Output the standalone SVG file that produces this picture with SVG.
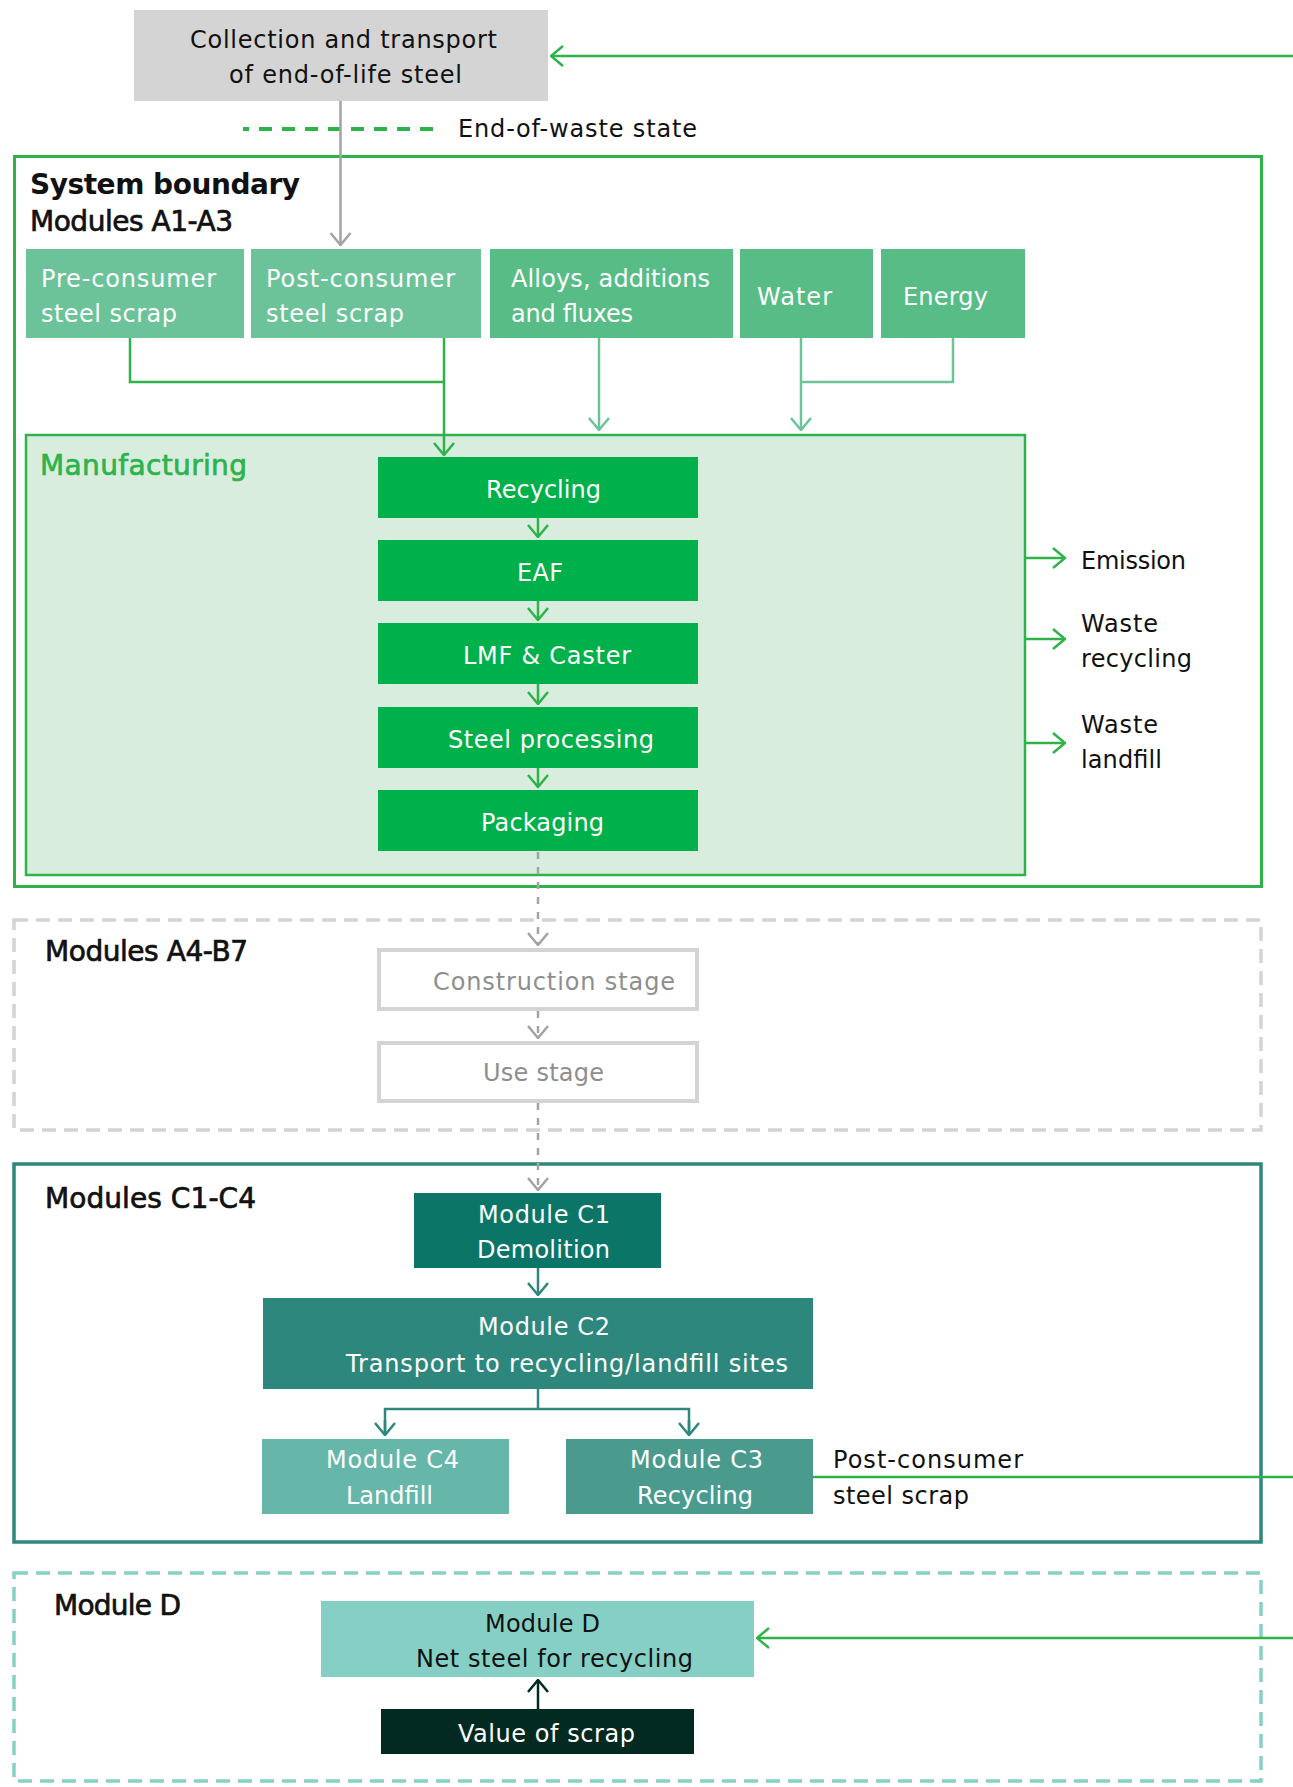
<svg xmlns="http://www.w3.org/2000/svg" width="1293" height="1787" viewBox="0 0 1293 1787">
<defs>
<style>
text{font-family:"DejaVu Sans","Liberation Sans",sans-serif;font-size:24px;fill:#111}
.w{fill:#fff}
.g{fill:#8d8f8e}
.h{font-size:28px;stroke:#111;stroke-width:0.7}
.b{font-weight:bold;stroke:none}
.mg{fill:#2db34a;stroke:#2db34a}
.ln{fill:none;stroke-width:2.5}
</style>
<marker id="aG" viewBox="0 0 14 22" markerWidth="14" markerHeight="22" refX="13" refY="11" orient="auto" markerUnits="userSpaceOnUse"><path d="M1,1 L13,11 L1,21" fill="none" stroke="#2db34a" stroke-width="2.5"/></marker>
<marker id="aL" viewBox="0 0 14 22" markerWidth="14" markerHeight="22" refX="13" refY="11" orient="auto" markerUnits="userSpaceOnUse"><path d="M1,1 L13,11 L1,21" fill="none" stroke="#6cc399" stroke-width="2.5"/></marker>
<marker id="aY" viewBox="0 0 14 22" markerWidth="14" markerHeight="22" refX="13" refY="11" orient="auto" markerUnits="userSpaceOnUse"><path d="M1,1 L13,11 L1,21" fill="none" stroke="#a3a3a3" stroke-width="2.5"/></marker>
<marker id="aT" viewBox="0 0 14 22" markerWidth="14" markerHeight="22" refX="13" refY="11" orient="auto" markerUnits="userSpaceOnUse"><path d="M1,1 L13,11 L1,21" fill="none" stroke="#2e877c" stroke-width="2.5"/></marker>
<marker id="aD" viewBox="0 0 14 22" markerWidth="14" markerHeight="22" refX="13" refY="11" orient="auto" markerUnits="userSpaceOnUse"><path d="M1,1 L13,11 L1,21" fill="none" stroke="#022a21" stroke-width="2.5"/></marker>
</defs>
<rect width="1293" height="1787" fill="#fff"/>

<!-- section frames -->
<g id="system-boundary">
<rect x="14.5" y="156.5" width="1247" height="730" fill="none" stroke="#2db34a" stroke-width="3"/>
<text x="30" y="194" class="h b" textLength="270">System boundary</text>
<text x="30" y="231" class="h" textLength="203">Modules A1-A3</text>
</g>
<g id="manufacturing">
<rect x="26" y="435" width="999" height="440" fill="#d9eddf" stroke="#2db34a" stroke-width="2.5"/>
<text x="40" y="475" class="h mg" textLength="207">Manufacturing</text>
</g>
<g id="modules-a4-b7">
<rect x="14" y="920" width="1247" height="210" fill="none" stroke="#d3d4d3" stroke-width="3.5" stroke-dasharray="14 8"/>
<text x="45" y="961" class="h" textLength="203">Modules A4-B7</text>
</g>
<g id="modules-c1-c4">
<rect x="14" y="1164" width="1247" height="378" fill="none" stroke="#2e877c" stroke-width="3.5"/>
<text x="45" y="1208" class="h" textLength="211">Modules C1-C4</text>
</g>
<g id="module-d-section">
<rect x="14" y="1573" width="1247" height="208" fill="none" stroke="#86d0c4" stroke-width="3.5" stroke-dasharray="14 8"/>
<text x="54" y="1615" class="h" textLength="127">Module D</text>
</g>

<!-- legend -->
<g id="legend">
<line x1="243" y1="129" x2="438" y2="129" stroke="#2db34a" stroke-width="4" stroke-dasharray="13 10" stroke-dashoffset="7"/>
<text x="458" y="137" textLength="239">End-of-waste state</text>
</g>

<!-- nodes -->
<g id="collection">
<rect x="134" y="10" width="414" height="91" fill="#d3d4d3"/>
<text x="190" y="48" textLength="307">Collection and transport</text>
<text x="229" y="83" textLength="233">of end-of-life steel</text>
</g>
<g id="pre-consumer">
<rect x="26" y="249" width="218" height="89" fill="#6cc399"/>
<text x="41" y="287" class="w" textLength="175">Pre-consumer</text>
<text x="41" y="322" class="w" textLength="136">steel scrap</text>
</g>
<g id="post-consumer">
<rect x="251" y="249" width="230" height="89" fill="#6cc399"/>
<text x="266" y="287" class="w" textLength="189">Post-consumer</text>
<text x="266" y="322" class="w" textLength="138">steel scrap</text>
</g>
<g id="alloys">
<rect x="490" y="249" width="243" height="89" fill="#58bc86"/>
<text x="511" y="287" class="w" textLength="199">Alloys, additions</text>
<text x="511" y="322" class="w" textLength="122">and fluxes</text>
</g>
<g id="water">
<rect x="740" y="249" width="133" height="89" fill="#58bc86"/>
<text x="757" y="305" class="w" textLength="75">Water</text>
</g>
<g id="energy">
<rect x="881" y="249" width="144" height="89" fill="#58bc86"/>
<text x="903" y="305" class="w" textLength="85">Energy</text>
</g>
<g id="recycling">
<rect x="378" y="457" width="320" height="61" fill="#00b04b"/>
<text x="486" y="498" class="w" textLength="115">Recycling</text>
</g>
<g id="eaf">
<rect x="378" y="540" width="320" height="61" fill="#00b04b"/>
<text x="517" y="581" class="w" textLength="46">EAF</text>
</g>
<g id="lmf">
<rect x="378" y="623" width="320" height="61" fill="#00b04b"/>
<text x="463" y="664" class="w" textLength="168">LMF &amp; Caster</text>
</g>
<g id="steel-processing">
<rect x="378" y="707" width="320" height="61" fill="#00b04b"/>
<text x="448" y="748" class="w" textLength="206">Steel processing</text>
</g>
<g id="packaging">
<rect x="378" y="790" width="320" height="61" fill="#00b04b"/>
<text x="481" y="831" class="w" textLength="123">Packaging</text>
</g>
<g id="emission">
<text x="1081" y="569" textLength="105">Emission</text>
</g>
<g id="waste-recycling">
<text x="1081" y="632" textLength="77">Waste</text>
<text x="1081" y="667" textLength="111">recycling</text>
</g>
<g id="waste-landfill">
<text x="1081" y="733" textLength="77">Waste</text>
<text x="1081" y="768" textLength="81">landfill</text>
</g>
<g id="construction-stage">
<rect x="379" y="950" width="318" height="59" fill="#fff" stroke="#d3d4d3" stroke-width="4"/>
<text x="433" y="990" class="g" textLength="242">Construction stage</text>
</g>
<g id="use-stage">
<rect x="379" y="1043" width="318" height="58" fill="#fff" stroke="#d3d4d3" stroke-width="4"/>
<text x="483" y="1081" class="g" textLength="121">Use stage</text>
</g>
<g id="c1">
<rect x="414" y="1193" width="247" height="75" fill="#0b7667"/>
<text x="478" y="1223" class="w" textLength="132">Module C1</text>
<text x="477" y="1258" class="w" textLength="133">Demolition</text>
</g>
<g id="c2">
<rect x="263" y="1298" width="550" height="91" fill="#2e877c"/>
<text x="478" y="1335" class="w" textLength="132">Module C2</text>
<text x="346" y="1372" class="w" textLength="442">Transport to recycling/landfill sites</text>
</g>
<g id="c4">
<rect x="262" y="1439" width="247" height="75" fill="#66b6a9"/>
<text x="326" y="1468" class="w" textLength="133">Module C4</text>
<text x="346" y="1504" class="w" textLength="87">Landfill</text>
</g>
<g id="c3">
<rect x="566" y="1439" width="247" height="75" fill="#4a9b8e"/>
<text x="630" y="1468" class="w" textLength="133">Module C3</text>
<text x="637" y="1504" class="w" textLength="116">Recycling</text>
</g>
<g id="post-consumer-out">
<text x="833" y="1468" textLength="190">Post-consumer</text>
<text x="833" y="1504" textLength="136">steel scrap</text>
</g>
<g id="module-d">
<rect x="321" y="1601" width="433" height="76" fill="#85cfc4"/>
<text x="485" y="1632" textLength="115">Module D</text>
<text x="416" y="1667" textLength="277">Net steel for recycling</text>
</g>
<g id="value-of-scrap">
<rect x="381" y="1709" width="313" height="45" fill="#022a21"/>
<text x="458" y="1742" class="w" textLength="177">Value of scrap</text>
</g>

<!-- connectors -->
<g id="connectors">
<line class="ln" x1="1293" y1="56" x2="551" y2="56" stroke="#2db34a" marker-end="url(#aG)"/>
<line class="ln" x1="340.5" y1="101" x2="340.5" y2="245" stroke="#a3a3a3" stroke-width="2" marker-end="url(#aY)"/>
<polyline class="ln" points="130,338 130,382 444,382" stroke="#2db34a"/>
<line class="ln" x1="444" y1="338" x2="444" y2="455" stroke="#2db34a" marker-end="url(#aG)"/>
<line class="ln" x1="599" y1="338" x2="599" y2="430" stroke="#6cc399" marker-end="url(#aL)"/>
<polyline class="ln" points="953,338 953,382 801,382" stroke="#6cc399"/>
<line class="ln" x1="801" y1="338" x2="801" y2="430" stroke="#6cc399" marker-end="url(#aL)"/>
<line class="ln" x1="538" y1="518" x2="538" y2="537" stroke="#2db34a" marker-end="url(#aG)"/>
<line class="ln" x1="538" y1="601" x2="538" y2="620" stroke="#2db34a" marker-end="url(#aG)"/>
<line class="ln" x1="538" y1="684" x2="538" y2="704" stroke="#2db34a" marker-end="url(#aG)"/>
<line class="ln" x1="538" y1="768" x2="538" y2="787" stroke="#2db34a" marker-end="url(#aG)"/>
<line class="ln" x1="1025" y1="558" x2="1065" y2="558" stroke="#2db34a" marker-end="url(#aG)"/>
<line class="ln" x1="1025" y1="639" x2="1065" y2="639" stroke="#2db34a" marker-end="url(#aG)"/>
<line class="ln" x1="1025" y1="743" x2="1065" y2="743" stroke="#2db34a" marker-end="url(#aG)"/>
<line class="ln" x1="538" y1="852" x2="538" y2="945" stroke="#a3a3a3" stroke-width="2" stroke-dasharray="7 8" marker-end="url(#aY)"/>
<line class="ln" x1="538" y1="1011" x2="538" y2="1038" stroke="#a3a3a3" stroke-width="2" stroke-dasharray="7 8" marker-end="url(#aY)"/>
<line class="ln" x1="538" y1="1103" x2="538" y2="1190" stroke="#a3a3a3" stroke-width="2" stroke-dasharray="7 8" marker-end="url(#aY)"/>
<line class="ln" x1="538" y1="1268" x2="538" y2="1295" stroke="#2e877c" marker-end="url(#aT)"/>
<polyline class="ln" points="538,1389 538,1409" stroke="#2e877c" stroke-width="3"/>
<polyline class="ln" points="385,1435 385,1409 689,1409 689,1435" stroke="#2e877c" stroke-width="3"/>
<line class="ln" x1="385" y1="1420" x2="385" y2="1435" stroke="#2e877c" marker-end="url(#aT)"/>
<line class="ln" x1="689" y1="1420" x2="689" y2="1435" stroke="#2e877c" marker-end="url(#aT)"/>
<line class="ln" x1="813" y1="1477" x2="1293" y2="1477" stroke="#2db34a" stroke-width="3"/>
<line class="ln" x1="1293" y1="1638" x2="757" y2="1638" stroke="#2db34a" stroke-width="3" marker-end="url(#aG)"/>
<line class="ln" x1="538" y1="1709" x2="538" y2="1680" stroke="#022a21" marker-end="url(#aD)"/>
</g>
</svg>
